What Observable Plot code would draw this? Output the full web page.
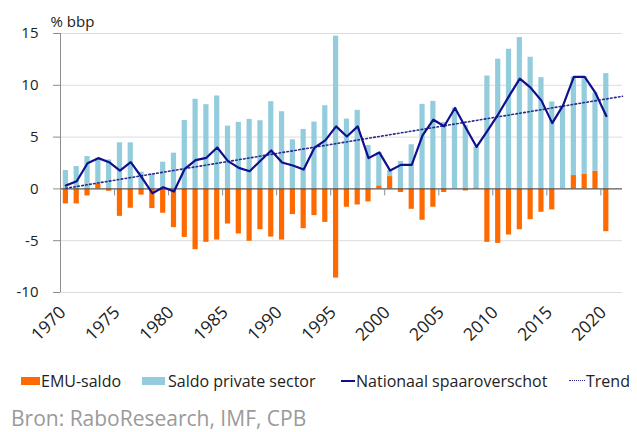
<!DOCTYPE html>
<html><head><meta charset="utf-8">
<script src="https://cdn.jsdelivr.net/npm/d3@7"></script>
<script src="https://cdn.jsdelivr.net/npm/@observablehq/plot@0.6"></script>
<style>
body{margin:0;background:#fff;font-family:"Open Sans",sans-serif;}
#wrap{position:relative;width:637px;height:432px;overflow:hidden;background:#fff;}
#legend{position:absolute;left:0;top:350px;width:637px;height:82px;}
.item{position:absolute;font-size:16px;line-height:22px;color:#222;white-space:nowrap;}
.sw{position:absolute;}
#source{position:absolute;left:11px;font-size:21px;line-height:28px;color:#9a9a9a;white-space:nowrap;}
</style></head>
<body><div id="wrap"><div id="chart"></div><div id="legend"></div></div>
<script>
const years = [1970,1971,1972,1973,1974,1975,1976,1977,1978,1979,1980,1981,1982,1983,1984,1985,1986,1987,1988,1989,1990,1991,1992,1993,1994,1995,1996,1997,1998,1999,2000,2001,2002,2003,2004,2005,2006,2007,2008,2009,2010,2011,2012,2013,2014,2015,2016,2017,2018,2019,2020];
const emuSaldo = [-1.45,-1.45,-0.68,0.5,-0.23,-2.65,-1.87,-0.6,-1.9,-2.35,-3.74,-4.68,-5.87,-5.16,-4.94,-3.39,-4.35,-5.06,-3.94,-4.65,-4.94,-2.48,-3.84,-2.58,-3.23,-8.61,-1.77,-1.55,-1.26,0.3,1.19,-0.35,-1.97,-3.03,-1.77,-0.35,0,-0.2,0.1,-5.16,-5.26,-4.45,-3.94,-2.97,-2.26,-2.03,0,1.29,1.39,1.71,-4.13];
const privateSector = [1.77,2.16,3.13,2.47,2.8,4.45,4.45,1.61,1.45,2.58,3.45,6.61,8.65,8.13,8.97,6.06,6.42,6.71,6.58,8.42,7.45,4.74,5.74,6.45,8.03,14.74,6.74,7.58,4.19,3.2,0.58,2.65,4.26,8.16,8.45,6.4,7.8,6.1,3.95,10.9,12.52,13.48,14.61,12.71,10.74,8.39,8.0,9.52,9.42,7.55,11.13];
const nationalSurplus = [0.32,0.74,2.48,2.97,2.58,1.77,2.58,1.13,-0.42,0.16,-0.26,1.94,2.78,3.0,4.0,2.68,2.03,1.71,2.71,3.71,2.55,2.26,1.87,3.97,4.68,6.03,5.06,6.03,2.97,3.52,1.77,2.32,2.32,5.16,6.68,6.05,7.81,5.9,4.05,5.6,7.2,8.95,10.65,9.77,8.52,6.35,8.06,10.81,10.81,9.26,7.03];
const trendYears = [1970, 2021.5];
const trendValues = [0.06, 8.94];
const yTicks = [-10, -5, 0, 5, 10, 15];
const xTickYears = [1970, 1975, 1980, 1985, 1990, 1995, 2000, 2005, 2010, 2015, 2020];
const seriesNames = ["EMU-saldo", "Saldo private sector", "Nationaal spaaroverschot", "Trend"];
const seriesColors = ["#ff6a00", "#93cddd", "#10108c", "#2a2a8c"];
const unitLabel = "% bbp";
const sourceText = "Bron: RaboResearch, IMF, CPB";

const bars = [
  ...years.map((year, i) => ({year, series: seriesNames[0], value: emuSaldo[i]})),
  ...years.map((year, i) => ({year, series: seriesNames[1], value: privateSector[i]}))
];
const national = years.map((year, i) => ({year, value: nationalSurplus[i]}));
const trend = trendYears.map((year, i) => ({year, value: trendValues[i]}));

const chart = Plot.plot({
  width: 637,
  height: 350,
  marginLeft: 60,
  marginRight: 15,
  marginTop: 33,
  marginBottom: 58,
  style: {fontFamily: "'Open Sans', sans-serif", color: "#222", background: "transparent", overflow: "visible"},
  x: {domain: [1970, 2022], axis: null},
  y: {domain: [-10, 15], axis: null},
  color: {domain: seriesNames.slice(0, 2), range: seriesColors.slice(0, 2)},
  marks: [
    Plot.gridY(yTicks, {stroke: "#dcdcdc", strokeOpacity: 1}),
    Plot.ruleX([1970], {stroke: "#8c8c8c"}),
    Plot.axisY(yTicks, {tickSize: 7, tickPadding: 15, fontSize: 15, tickFormat: d => String(d), stroke: "#8c8c8c", label: null}),
    Plot.rectY(bars, Plot.stackY({x1: "year", x2: d => d.year + 1, y: "value", fill: "series", insetLeft: 2.8, insetRight: 2.8})),
    Plot.ruleY([0], {stroke: "#404040"}),
    Plot.ruleX(xTickYears, {x: d => d, y1: 0, y2: 0, insetBottom: -7, stroke: "#8c8c8c"}),
    Plot.axisX(xTickYears.map(d => d + 0.5), {tickSize: 0, tickRotate: -45, tickPadding: 17, dx: -3, fontSize: 17.5, tickFormat: d => String(d - 0.5), label: null}),
    Plot.line(trend, {x: d => d.year + 0.5, y: "value", stroke: seriesColors[3], strokeWidth: 1.6, strokeDasharray: "1.6,2.4"}),
    Plot.line(national, {x: d => d.year + 0.5, y: "value", stroke: seriesColors[2], strokeWidth: 2.2}),
    Plot.text([unitLabel], {frameAnchor: "top-left", dx: -10, dy: -17, textAnchor: "start", fontSize: 15, fill: "#222"})
  ]
});
document.getElementById("chart").appendChild(chart);

// legend + source
const legend = document.getElementById("legend");
const itemLayout = [
  {swLeft: 21, swWidth: 19, textLeft: 41, type: "rect"},
  {swLeft: 142, swWidth: 23, textLeft: 168, type: "rect"},
  {swLeft: 341, swWidth: 14, textLeft: 356, type: "line"},
  {swLeft: 569, swWidth: 16, textLeft: 586, type: "dots"}
];
seriesNames.forEach((name, i) => {
  const L = itemLayout[i];
  const sw = document.createElement("div");
  sw.className = "sw";
  sw.style.left = L.swLeft + "px";
  sw.style.width = L.swWidth + "px";
  if (L.type === "rect") {
    sw.style.top = "27px"; sw.style.height = "8px"; sw.style.background = seriesColors[i];
  } else if (L.type === "line") {
    sw.style.top = "30px"; sw.style.height = "2px"; sw.style.background = seriesColors[i];
  } else {
    sw.style.top = "30px"; sw.style.height = "0px"; sw.style.borderTop = "1.5px dotted " + seriesColors[i];
  }
  legend.appendChild(sw);
  const t = document.createElement("div");
  t.className = "item";
  t.style.left = L.textLeft + "px";
  t.style.top = "19.5px";
  t.textContent = name;
  legend.appendChild(t);
});
const src = document.createElement("div");
src.id = "source";
src.style.top = "54px";
src.textContent = sourceText;
legend.appendChild(src);
</script>
</body></html>
